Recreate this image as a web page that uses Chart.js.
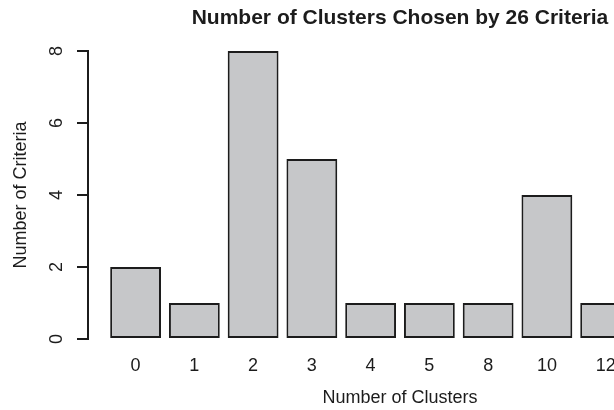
<!DOCTYPE html>
<html>
<head>
<meta charset="utf-8">
<script src="https://cdn.jsdelivr.net/npm/chart.js@4"></script>
<style>
  html, body { margin: 0; padding: 0; background: #fff; overflow: hidden; }
  #wrap { width: 614px; height: 410px; overflow: hidden; }
</style>
</head>
<body>
<div id="wrap"><canvas id="chart" width="720" height="410"></canvas></div>
<script>
const categories = ['0', '1', '2', '3', '4', '5', '8', '10', '12'];
const criteriaCounts = [2, 1, 8, 5, 1, 1, 1, 4, 1];
const yTicks = [0, 2, 4, 6, 8];

const FONT = "'Liberation Sans', Arial, Helvetica, sans-serif";
const INK = '#1c1c1c';

// main title centred over the plot region, y tick labels turned like R's las=0
const rLook = {
  id: 'rLook',
  afterDraw(chart) {
    const ctx = chart.ctx;
    const area = chart.chartArea;
    const y = chart.scales.y;
    ctx.save();
    ctx.fillStyle = INK;
    ctx.font = 'bold 21px ' + FONT;
    ctx.textAlign = 'center';
    ctx.textBaseline = 'middle';
    ctx.fillText('Number of Clusters Chosen by 26 Criteria', (area.left + area.right) / 2, 18);

    ctx.font = '18px ' + FONT;
    ctx.textBaseline = 'alphabetic';
    yTicks.forEach(v => {
      ctx.save();
      ctx.translate(62, y.getPixelForValue(v));
      ctx.rotate(-Math.PI / 2);
      ctx.fillText(String(v), 0, 0);
      ctx.restore();
    });
    ctx.restore();
  }
};

new Chart(document.getElementById('chart'), {
  type: 'bar',
  data: {
    datasets: [{
      data: criteriaCounts.map((v, i) => ({ x: i, y: v })),
      backgroundColor: '#c6c7c9',
      borderColor: INK,
      borderWidth: 2,
      borderSkipped: false,
      categoryPercentage: 1,
      barPercentage: 0.865
    }]
  },
  options: {
    responsive: false,
    animation: false,
    layout: { padding: { top: 51, left: 0, right: 8, bottom: 0 } },
    plugins: {
      legend: { display: false },
      tooltip: { enabled: false }
    },
    scales: {
      x: {
        type: 'linear',
        offset: false,
        min: -0.81,
        max: 9.81,
        afterFit: s => { s.height = 71; },
        afterBuildTicks: s => { s.ticks = categories.map((c, i) => ({ value: i })); },
        grid: { display: false },
        border: { display: false },
        ticks: {
          autoSkip: false,
          maxRotation: 0,
          padding: 8,
          color: INK,
          font: { family: FONT, size: 18 },
          callback: v => categories[v]
        },
        title: {
          display: true,
          text: 'Number of Clusters',
          color: INK,
          font: { family: FONT, size: 18 },
          padding: { top: 0, bottom: 1 }
        }
      },
      y: {
        min: 0,
        max: 8,
        afterFit: s => { s.width = 88; },
        afterBuildTicks: s => { s.ticks = yTicks.map(v => ({ value: v })); },
        grid: {
          drawOnChartArea: false,
          drawTicks: true,
          tickLength: 11,
          color: INK,
          lineWidth: 2
        },
        border: { display: true, color: INK, width: 2 },
        ticks: { display: false },
        title: {
          display: true,
          text: 'Number of Criteria',
          color: INK,
          font: { family: FONT, size: 18 },
          padding: { top: 10, bottom: 0 }
        }
      }
    }
  },
  plugins: [rLook]
});
</script>
</body>
</html>
